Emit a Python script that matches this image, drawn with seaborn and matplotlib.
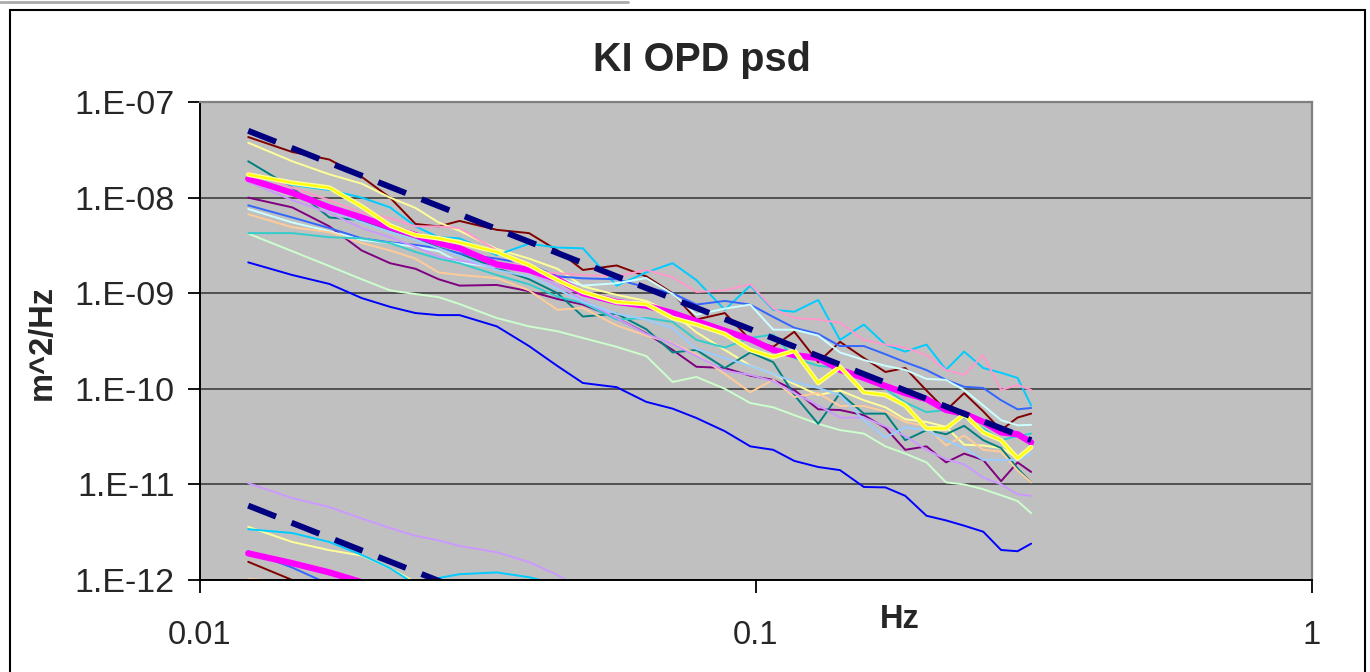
import matplotlib
matplotlib.use("Agg")
import matplotlib.pyplot as plt
from matplotlib.patches import Rectangle
from matplotlib.lines import Line2D
from matplotlib.ticker import NullLocator
import seaborn as sns

# Frequency grid (Hz) shared by all spectra
freq = [0.01221, 0.01465, 0.01709, 0.01953, 0.02197, 0.02441, 0.02686, 0.02930,
        0.03418, 0.03906, 0.04395, 0.04883, 0.05615, 0.06348, 0.07080, 0.07813,
        0.08789, 0.09766, 0.1074, 0.1172, 0.1294, 0.1416, 0.1563, 0.1709,
        0.1855, 0.2026, 0.2197, 0.2368, 0.2563, 0.2759, 0.2954, 0.3125]

# OPD power spectral densities, m^2/Hz
psd_blue = [2.1e-9, 1.55e-9, 1.25e-9, 8.9e-10, 7.2e-10, 6.2e-10, 5.9e-10, 5.9e-10,
            4.5e-10, 2.8e-10, 1.73e-10, 1.15e-10, 1.04e-10, 7.3e-11, 6.2e-11, 4.95e-11,
            3.6e-11, 2.5e-11, 2.3e-11, 1.76e-11, 1.52e-11, 1.41e-11, 9.4e-12, 9.3e-12,
            7.6e-12, 4.7e-12, 4.2e-12, 3.7e-12, 3.2e-12, 2.06e-12, 2.0e-12, 2.4e-12]
psd_light_green = [4.2e-9, 2.75e-9, 1.92e-9, 1.4e-9, 1.07e-9, 9.8e-10, 9.1e-10, 7.7e-10,
                   5.5e-10, 4.5e-10, 4.0e-10, 3.4e-10, 2.75e-10, 2.2e-10, 1.18e-10, 1.33e-10,
                   1.0e-10, 7.1e-11, 6.4e-11, 5.3e-11, 4.3e-11, 3.7e-11, 3.4e-11, 2.5e-11,
                   2.1e-11, 1.7e-11, 1.05e-11, 1.0e-11, 8.9e-12, 7.7e-12, 6.7e-12, 5.0e-12]
psd_purple = [1.0e-8, 7.9e-9, 5.0e-9, 2.8e-9, 2.06e-9, 1.8e-9, 1.4e-9, 1.2e-9,
              1.22e-9, 1.05e-9, 8.7e-10, 7.6e-10, 5.5e-10, 3.8e-10, 2.55e-10, 1.7e-10,
              1.65e-10, 1.37e-10, 1.24e-10, 9.7e-11, 6.1e-11, 6.0e-11, 5.3e-11, 3.9e-11,
              2.3e-11, 2.5e-11, 1.7e-11, 2.1e-11, 1.8e-11, 1.08e-11, 1.7e-11, 1.35e-11]
psd_maroon = [4.3e-8, 3.0e-8, 2.5e-8, 1.65e-8, 1.0e-8, 5.3e-9, 5.0e-9, 5.7e-9,
              4.6e-9, 4.25e-9, 2.8e-9, 1.75e-9, 1.95e-9, 1.5e-9, 1.0e-9, 5.3e-10,
              6.2e-10, 3.25e-10, 2.75e-10, 3.95e-10, 1.9e-10, 3.1e-10, 2.1e-10, 1.5e-10,
              1.65e-10, 9.6e-11, 5.95e-11, 9.0e-11, 5.8e-11, 3.7e-11, 5.0e-11, 5.5e-11]
psd_pale_yellow = [3.75e-8, 2.4e-8, 1.75e-8, 1.4e-8, 1.0e-8, 7.8e-9, 5.5e-9, 4.5e-9,
                   2.9e-9, 2.3e-9, 1.8e-9, 1.18e-9, 9.6e-10, 8.3e-10, 6.2e-10, 3.9e-10,
                   2.55e-10, 1.75e-10, 1.43e-10, 1.12e-10, 8.6e-11, 9.6e-11, 7.6e-11, 6.4e-11,
                   4.8e-11, 4.5e-11, 4.0e-11, 2.6e-11, 2.55e-11, 2.4e-11, 1.9e-11, 2.55e-11]
psd_teal = [2.4e-8, 1.27e-8, 6.2e-9, 5.8e-9, 4.6e-9, 3.85e-9, 3.0e-9, 2.6e-9,
            1.83e-9, 1.4e-9, 1.0e-9, 5.7e-10, 6.1e-10, 4.2e-10, 2.4e-10, 2.55e-10,
            1.65e-10, 2.4e-10, 1.9e-10, 8.6e-11, 4.3e-11, 9.0e-11, 5.5e-11, 5.5e-11,
            2.9e-11, 3.7e-11, 3.35e-11, 4.1e-11, 2.9e-11, 2.4e-11, 1.47e-11, 1.05e-11]
psd_sky = [1.7e-8, 1.36e-8, 1.2e-8, 1.0e-8, 7.9e-9, 5.0e-9, 3.85e-9, 3.75e-9,
           2.5e-9, 3.3e-9, 3.0e-9, 2.95e-9, 1.2e-9, 1.65e-9, 2.06e-9, 1.37e-9,
           6.7e-10, 1.2e-9, 6.7e-10, 6.4e-10, 8.5e-10, 3.25e-10, 4.7e-10, 2.9e-10,
           2.45e-10, 2.9e-10, 1.58e-10, 2.45e-10, 1.65e-10, 1.47e-10, 1.3e-10, 6.7e-11]
psd_royal = [8.3e-9, 6.2e-9, 4.8e-9, 3.75e-9, 3.4e-9, 3.2e-9, 2.95e-9, 2.6e-9,
             2.3e-9, 2.0e-9, 1.5e-9, 1.43e-9, 1.4e-9, 1.15e-9, 1.0e-9, 7.6e-10,
             8.3e-10, 7.6e-10, 5.65e-10, 4.35e-10, 3.75e-10, 2.8e-10, 2.8e-10, 2.3e-10,
             1.9e-10, 1.57e-10, 1.24e-10, 1.05e-10, 1.02e-10, 7.6e-11, 6.1e-11, 6.3e-11]
psd_light_cyan = [7.6e-9, 5.5e-9, 4.45e-9, 3.6e-9, 3.35e-9, 3.05e-9, 2.75e-9, 2.1e-9,
                  1.87e-9, 1.75e-9, 1.44e-9, 1.2e-9, 1.27e-9, 1.44e-9, 9.8e-10, 5.95e-10,
                  6.9e-10, 7.6e-10, 4.15e-10, 4.15e-10, 3.6e-10, 2.4e-10, 2.0e-10, 1.74e-10,
                  1.58e-10, 1.27e-10, 1.24e-10, 9.7e-11, 6.7e-11, 4.7e-11, 4.15e-11, 4.2e-11]
psd_tan = [6.7e-9, 4.9e-9, 4.35e-9, 3.35e-9, 2.8e-9, 2.3e-9, 1.65e-9, 1.55e-9,
           1.44e-9, 1.07e-9, 6.7e-10, 7.0e-10, 4.6e-10, 3.6e-10, 3.0e-10, 2.3e-10,
           1.43e-10, 9.2e-11, 1.24e-10, 8.2e-11, 9.0e-11, 6.6e-11, 6.6e-11, 5.8e-11,
           4.5e-11, 4.05e-11, 2.55e-11, 3.25e-11, 2.3e-11, 2.2e-11, 1.4e-11, 1.05e-11]
psd_turquoise = [4.25e-9, 4.25e-9, 3.85e-9, 3.75e-9, 3.35e-9, 2.7e-9, 2.3e-9, 2.06e-9,
                 1.55e-9, 1.24e-9, 9.2e-10, 7.9e-10, 5.3e-10, 5.5e-10, 5.0e-10, 3.25e-10,
                 2.7e-10, 3.4e-10, 3.7e-10, 2.1e-10, 1.74e-10, 1.65e-10, 1.27e-10, 1.0e-10,
                 7.2e-11, 5.7e-11, 6.0e-11, 5.0e-11, 3.85e-11, 2.9e-11, 3.2e-11, 3.4e-11]
psd_pink = [1.85e-8, 1.27e-8, 9.4e-9, 7.0e-9, 6.1e-9, 5.0e-9, 5.0e-9, 4.8e-9,
            2.8e-9, 1.7e-9, 1.62e-9, 1.55e-9, 1.5e-9, 1.75e-9, 1.47e-9, 1.03e-9,
            1.07e-9, 1.24e-9, 6.9e-10, 5.5e-10, 5.3e-10, 4.9e-10, 3.25e-10, 2.9e-10,
            2.7e-10, 2.25e-10, 1.57e-10, 1.4e-10, 2.25e-10, 9.7e-11, 1.1e-10, 9.7e-11]
psd_lavender = [1.46e-8, 9.4e-9, 6.9e-9, 4.8e-9, 3.85e-9, 3.05e-9, 2.4e-9, 2.2e-9,
                1.87e-9, 1.66e-9, 1.2e-9, 8.5e-10, 5.5e-10, 3.75e-10, 2.95e-10, 2.2e-10,
                1.54e-10, 1.4e-10, 1.2e-10, 9.0e-11, 6.7e-11, 5.0e-11, 5.0e-11, 4.05e-11,
                3.2e-11, 2.3e-11, 1.83e-11, 1.62e-11, 1.18e-11, 1.0e-11, 7.9e-12, 7.6e-12]
psd_light_blue = [1.6e-8, 1.07e-8, 7.4e-9, 5.5e-9, 4.35e-9, 3.6e-9, 2.95e-9, 2.45e-9,
                  1.74e-9, 1.5e-9, 1.1e-9, 8.1e-10, 6.1e-10, 5.3e-10, 4.3e-10, 2.6e-10,
                  2.1e-10, 1.74e-10, 1.43e-10, 1.18e-10, 1.02e-10, 8.6e-11, 4.7e-11, 3.1e-11,
                  3.95e-11, 3.7e-11, 2.9e-11, 2.4e-11, 1.8e-11, 1.8e-11, 1.8e-11, 2.1e-11]
psd_magenta = [1.57e-8, 1.12e-8, 7.9e-9, 6.2e-9, 4.9e-9, 4.05e-9, 3.35e-9, 2.95e-9,
               2.0e-9, 1.75e-9, 1.4e-9, 1.0e-9, 8.1e-10, 7.4e-10, 6.2e-10, 5.1e-10,
               4.05e-10, 3.3e-10, 2.55e-10, 2.25e-10, 2.1e-10, 1.58e-10, 1.3e-10, 1.07e-10,
               9.0e-11, 7.8e-11, 6.0e-11, 5.5e-11, 4.5e-11, 3.5e-11, 3.35e-11, 2.75e-11]
psd_yellow = [1.74e-8, 1.43e-8, 1.27e-8, 8.1e-9, 5.1e-9, 4.05e-9, 3.75e-9, 3.4e-9,
              2.7e-9, 1.97e-9, 1.37e-9, 1.03e-9, 8.1e-10, 7.7e-10, 5.5e-10, 4.7e-10,
              3.75e-10, 2.55e-10, 2.15e-10, 2.5e-10, 1.15e-10, 1.7e-10, 9.2e-11, 8.6e-11,
              6.7e-11, 3.85e-11, 3.85e-11, 5.4e-11, 3.5e-11, 2.9e-11, 1.87e-11, 2.45e-11]

# Power-law reference curves (end points)
model_freq = [0.01221, 0.3125]
model_upper = [5.0e-8, 2.9e-11]
model_lower = [6.0e-12, 3.5e-15]

# Lower family of curves (first points of the same frequency grid)
low_lavender = [1.03e-11, 7.2e-12, 5.8e-12, 4.4e-12, 3.5e-12, 2.9e-12, 2.6e-12, 2.27e-12,
                1.95e-12, 1.54e-12, 1.13e-12, 8.0e-13]
low_sky = [3.4e-12, 3.1e-12, 2.5e-12, 1.83e-12, 1.33e-12, 9.0e-13, 1.05e-12, 1.15e-12,
           1.2e-12, 1.07e-12, 9.0e-13]
low_pale_yellow = [3.6e-12, 2.5e-12, 2.05e-12, 1.8e-12, 1.33e-12, 9.5e-13, 6.0e-13]
low_magenta = [1.9e-12, 1.5e-12, 1.2e-12, 9.5e-13, 7.5e-13]
low_royal = [2.0e-12, 1.35e-12, 9.0e-13, 7.0e-13]
low_maroon = [1.55e-12, 1.0e-12, 7.0e-13]
low_tan = [1.03e-12, 9.5e-13, 8.0e-13]

y_ticks = [1e-12, 1e-11, 1e-10, 1e-9, 1e-8, 1e-7]
y_tick_labels = ["1.E-12", "1.E-11", "1.E-10", "1.E-09", "1.E-08", "1.E-07"]
x_ticks = [0.01, 0.1, 1]
x_tick_labels = ["0.01", "0.1", "1"]

sns.set_theme(style="white")
plt.rcParams["font.family"] = ["Liberation Sans", "DejaVu Sans"]

W, H = 1370, 672
fig = plt.figure(figsize=(W / 100, H / 100), dpi=100)
ax = fig.add_axes([200 / W, 1 - 580 / H, 1112 / W, 478 / H])
ax.set_facecolor("#C0C0C0")

THIN = 1.4
thin_series = [
    (psd_blue, "#0000FF"),
    (psd_light_green, "#CCFFCC"),
    (psd_purple, "#800080"),
    (psd_maroon, "#800000"),
    (psd_pale_yellow, "#FFFF99"),
    (psd_teal, "#008080"),
    (psd_sky, "#00CCFF"),
    (psd_royal, "#3366FF"),
    (psd_light_cyan, "#CCFFFF"),
    (psd_tan, "#FFCC99"),
    (psd_turquoise, "#33CCCC"),
    (psd_pink, "#FF99CC"),
    (psd_lavender, "#CC99FF"),
    (psd_light_blue, "#99CCFF"),
]
for vals, col in thin_series:
    sns.lineplot(x=freq, y=vals, color=col, linewidth=THIN, ax=ax,
                 estimator=None, sort=False)

low_series = [
    (low_tan, "#FFCC99", THIN),
    (low_maroon, "#800000", THIN),
    (low_royal, "#3366FF", THIN),
    (low_pale_yellow, "#FFFF99", THIN),
    (low_sky, "#00CCFF", THIN),
    (low_lavender, "#CC99FF", THIN),
    (low_magenta, "#FF00FF", 4.5),
]
for vals, col, lw in low_series:
    sns.lineplot(x=freq[:len(vals)], y=vals, color=col, linewidth=lw, ax=ax,
                 estimator=None, sort=False)

# Mean spectrum and highlighted record
sns.lineplot(x=freq, y=psd_magenta, color="#FF00FF", linewidth=4.5, ax=ax,
             estimator=None, sort=False)
sns.lineplot(x=freq, y=psd_yellow, color="#FFFF99", linewidth=3.4, ax=ax,
             estimator=None, sort=False)
sns.lineplot(x=freq, y=psd_yellow, color="#FFFF00", linewidth=1.5, ax=ax,
             estimator=None, sort=False)

# Power-law models
for vals in (model_upper, model_lower):
    sns.lineplot(x=model_freq, y=vals, color="#000080", linewidth=4.3, ax=ax,
                 estimator=None, sort=False, linestyle=(0, (5, 2.8)))

ax.set_xscale("log")
ax.set_yscale("log")
ax.set_xlim(0.01, 1)
ax.set_ylim(1e-12, 1e-7)

ax.set_yticks(y_ticks, y_tick_labels)
ax.set_xticks(x_ticks, x_tick_labels)
ax.xaxis.set_minor_locator(NullLocator())
ax.yaxis.set_minor_locator(NullLocator())
ax.yaxis.grid(True, color="#333333", linewidth=1.1)
ax.xaxis.grid(False)
ax.set_axisbelow(True)

ax.tick_params(axis="x", direction="out", length=9, width=1.3, color="black",
               labelsize=23.5, pad=20, bottom=True)
ax.tick_params(axis="y", direction="out", length=9, width=1.3, color="black",
               labelsize=24.5, pad=9, left=True)

for side in ("left", "bottom"):
    ax.spines[side].set_color("black")
    ax.spines[side].set_linewidth(1.4)
for side in ("top", "right"):
    ax.spines[side].set_color("#808080")
    ax.spines[side].set_linewidth(1.6)

ax.set_xlabel("Hz", fontsize=23.5, fontweight="bold")
ax.xaxis.set_label_coords((900 - 200) / 1112, (580 - 620) / 478)
ax.xaxis.label.set_va("center")
ax.set_ylabel("m^2/Hz", fontsize=23.5, fontweight="bold")
ax.yaxis.set_label_coords((42 - 200) / 1112, (580 - 342) / 478)
ax.yaxis.label.set_va("center")

fig.text(702 / W, 1 - 60 / H, "KI OPD psd", ha="center", va="center",
         fontsize=28.5, fontweight="bold")

# Chart frame and sheet line above it
fig.add_artist(Rectangle((10 / W, -0.05), (1365 - 10) / W, 1 - 10 / H + 0.05,
                         transform=fig.transFigure, fill=False,
                         edgecolor="black", linewidth=1.5))
fig.add_artist(Line2D([0, 628 / W], [1 - 1.5 / H, 1 - 1.5 / H],
                      transform=fig.transFigure, color="#AAAAAA", linewidth=2))

fig.savefig("out.png", dpi=100, facecolor="white")
